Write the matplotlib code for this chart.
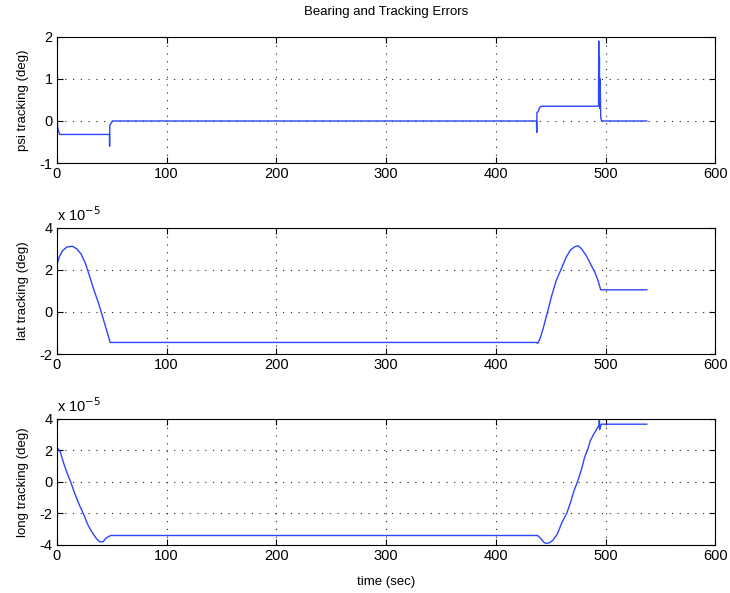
import matplotlib.pyplot as plt
import numpy as np

plt.rcParams['font.family'] = ['Liberation Sans', 'DejaVu Sans']
plt.rcParams['axes.unicode_minus'] = False

# heading error (deg)
psi_t = [0, 1, 2.5, 47.8, 48.0, 48.2, 49.5, 50.5, 437.0, 437.2, 437.4, 438.5, 439.5, 441.0,
         493.5, 493.7, 494.0, 494.3, 494.6, 495.0, 495.5, 496.2, 537.5]
psi_v = [0, -0.2, -0.32, -0.32, -0.6, -0.1, -0.05, 0, 0, -0.27, 0.2, 0.22, 0.3, 0.35,
         0.35, 1.9, 0.5, 1.5, 0.3, 1.0, 0.1, 0, 0]

# lateral tracking error (x 1e-5 deg)
lat_t = [0, 0.3, 2, 5, 9, 14, 18, 22, 26, 30, 34, 38, 42, 46, 48.5,
         437, 438, 440, 443, 447, 451, 455, 460, 464, 468, 472, 475, 478, 482, 486, 490, 493,
         495.5, 537.5]
lat_v = [1.7, 2.3, 2.6, 2.9, 3.08, 3.12, 3.0, 2.75, 2.3, 1.65, 1.0, 0.4, -0.3, -1.0, -1.45,
         -1.45, -1.5, -1.3, -0.8, 0, 0.8, 1.5, 2.1, 2.6, 2.95, 3.1, 3.14, 3.0, 2.7, 2.3, 1.9, 1.5,
         1.05, 1.05]

# longitudinal tracking error (x 1e-5 deg)
long_t = [0, 1, 3, 6, 9, 12.5, 16, 20, 24, 28, 32, 36, 39, 42, 45, 49,
          438, 441, 444, 446, 449, 452, 456, 460, 464.5, 468, 471, 474.3, 478, 481, 483.5,
          486, 489, 492, 494, 494.2, 494.5, 495, 496, 537.5]
long_v = [2.05, 2.1, 1.9, 1.2, 0.6, 0, -0.7, -1.4, -2.0, -2.7, -3.2, -3.6, -3.8, -3.8, -3.55, -3.4,
          -3.4, -3.6, -3.85, -3.9, -3.85, -3.7, -3.3, -2.6, -2.0, -1.3, -0.6, 0, 0.8, 1.6, 2.0,
          2.6, 3.0, 3.35, 3.6, 4.3, 3.3, 3.45, 3.65, 3.65]

x_ticks = [0, 100, 200, 300, 400, 500, 600]
line_col = '#2a46ff'

panels = [
    (psi_t, psi_v, (-1, 2), [-1, 0, 1, 2], 'psi tracking (deg)', False),
    (lat_t, lat_v, (-2, 4), [-2, 0, 2, 4], 'lat tracking (deg)', True),
    (long_t, long_v, (-4, 4), [-4, -2, 0, 2, 4], 'long tracking (deg)', True),
]
bottoms = [0.725, 0.403, 0.081]

fig = plt.figure(figsize=(7.3, 5.93), dpi=100)
axes = []
for (t, v, ylim, yt, lab, scaled), b in zip(panels, bottoms):
    ax = fig.add_axes([0.078, b, 0.902, 0.213])
    ax.plot(t, v, color=line_col, lw=1.0)
    ax.set_xlim(0, 600)
    ax.set_ylim(*ylim)
    ax.set_xticks(x_ticks)
    ax.set_yticks(yt)
    ax.grid(True, color='#222222', linestyle=(0, (1, 6)), linewidth=0.8)
    ax.tick_params(direction='in', top=True, right=True, labelsize=10.5, length=4, pad=3)
    for s in ax.spines.values():
        s.set_linewidth(0.8)
    ax.set_ylabel(lab, fontsize=9.5, labelpad=8)
    if scaled:
        ax.text(0.0, 1.03, r'x 10$^{-5}$', transform=ax.transAxes, fontsize=10.5,
                ha='left', va='bottom')
    axes.append(ax)

axes[0].set_title('Bearing and Tracking Errors', fontsize=9.5, pad=16)
axes[2].set_xlabel('time (sec)', fontsize=9.5, labelpad=9)

fig.savefig('out.png', dpi=100)
